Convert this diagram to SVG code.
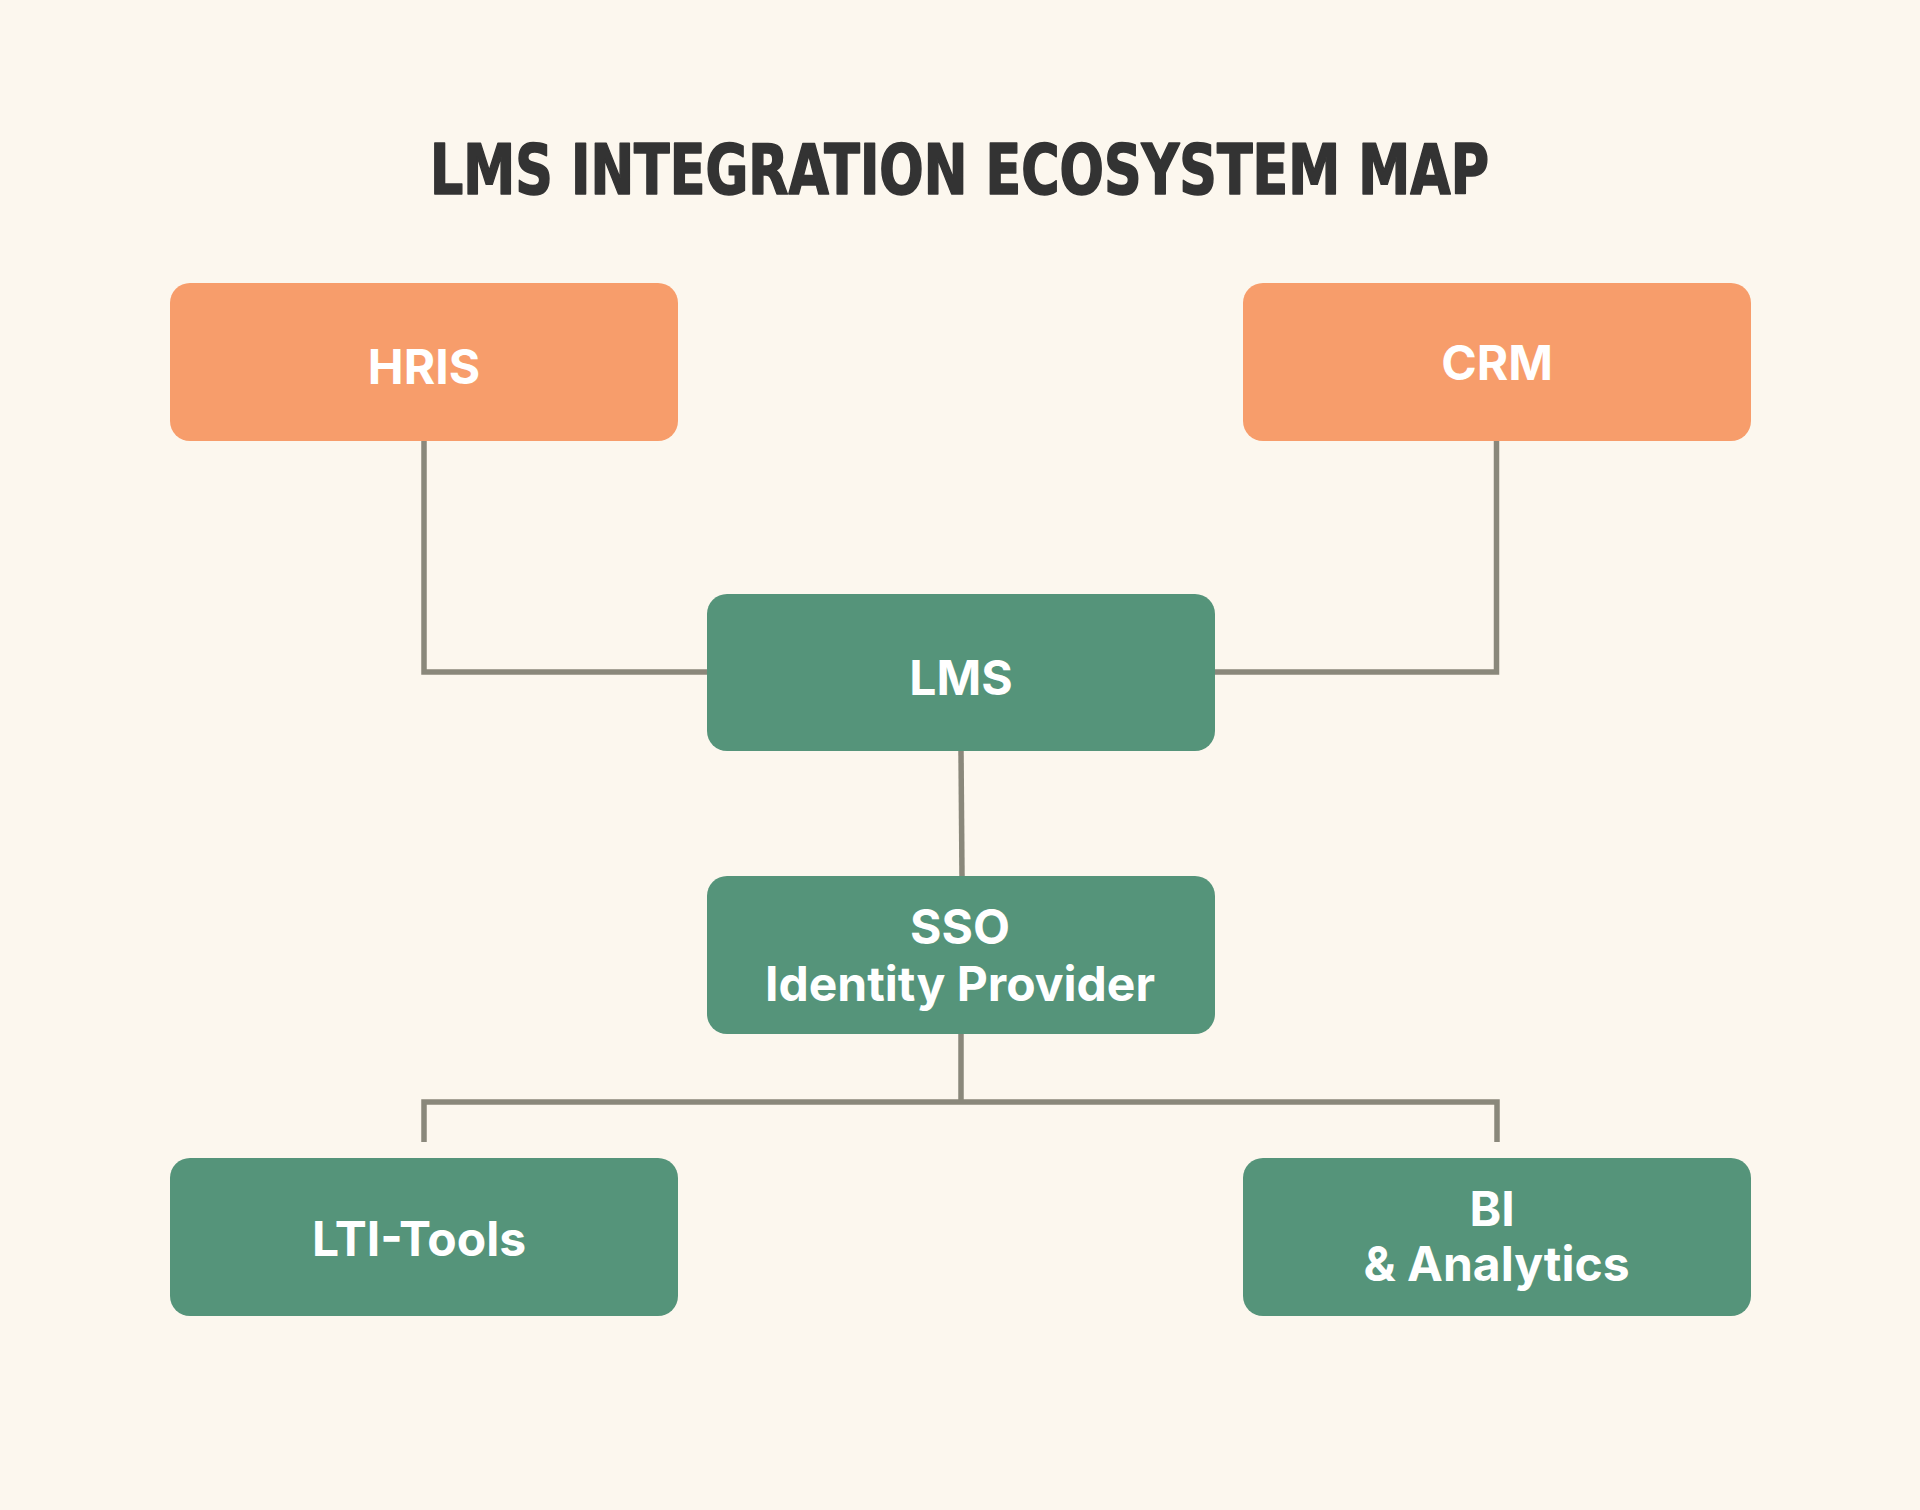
<svg xmlns="http://www.w3.org/2000/svg" width="1920" height="1510" viewBox="0 0 1920 1510">
  <style>
    .bg { fill: #FCF7EE; }
    .title { font-family: "Liberation Sans Narrow", "DejaVu Sans Condensed", "Roboto Condensed", sans-serif; font-weight: bold; font-stretch: condensed; font-size: 69px; fill: #333333; stroke: #333333; stroke-width: 1.6; stroke-linejoin: round; }
    .ext { fill: #F79D6B; }
    .core { fill: #55947A; }
    .label { font-family: Inter, Roboto, "Liberation Sans", sans-serif; font-weight: bold; font-size: 48px; fill: #FFFFFF; text-anchor: middle; }
    .conn { fill: none; stroke: #8A887B; stroke-width: 5.5; stroke-linejoin: miter; stroke-linecap: butt; }
  </style>
  <rect class="bg" x="0" y="0" width="1920" height="1510"/>
  <text class="title" x="959.5" y="194" text-anchor="middle" textLength="1059" lengthAdjust="spacingAndGlyphs">LMS INTEGRATION ECOSYSTEM MAP</text>

  <g id="connectors">
    <path class="conn" d="M424,441 V672 H707"/>
    <path class="conn" d="M1496.5,441 V672 H1214"/>
    <path class="conn" d="M961,751 L962,876"/>
    <path class="conn" d="M961,1034 V1102"/>
    <path class="conn" d="M424,1142 V1102 H1497 V1142"/>
  </g>

  <g id="node-hris">
    <rect class="ext" x="170" y="283" width="508" height="158" rx="20" ry="20"/>
    <text class="label" x="424" y="384">HRIS</text>
  </g>
  <g id="node-crm">
    <rect class="ext" x="1243" y="283" width="508" height="158" rx="20" ry="20"/>
    <text class="label" x="1497" y="380">CRM</text>
  </g>
  <g id="node-lms">
    <rect class="core" x="707" y="594" width="508" height="157" rx="20" ry="20"/>
    <text class="label" x="961" y="695">LMS</text>
  </g>
  <g id="node-sso">
    <rect class="core" x="707" y="876" width="508" height="158" rx="20" ry="20"/>
    <text class="label" x="960" y="944">SSO</text>
    <text class="label" x="960" y="1000.5">Identity Provider</text>
  </g>
  <g id="node-lti">
    <rect class="core" x="170" y="1158" width="508" height="158" rx="20" ry="20"/>
    <text class="label" x="419" y="1256">LTI-Tools</text>
  </g>
  <g id="node-bi">
    <rect class="core" x="1243" y="1158" width="508" height="158" rx="20" ry="20"/>
    <text class="label" x="1492" y="1226">BI</text>
    <text class="label" x="1496.5" y="1281">&amp; Analytics</text>
  </g>
</svg>
